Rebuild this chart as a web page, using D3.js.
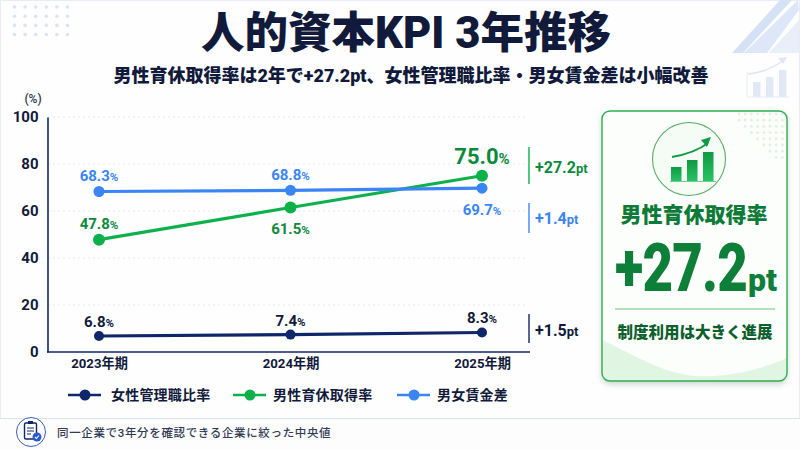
<!DOCTYPE html>
<html lang="ja">
<head>
<meta charset="utf-8">
<script src="https://cdn.jsdelivr.net/npm/d3@7"></script>
<style>
html,body{margin:0;padding:0;background:#fff}
svg{display:block}
text{font-family:Roboto,"Noto Sans CJK JP",sans-serif;font-weight:700}
</style>
</head>
<body>
<svg id="chart" width="800" height="450"></svg>
<script>
// Three-year median KPI values (%)
const fiscalYears = ["2023年期", "2024年期", "2025年期"];
const femaleManagers = [6.8, 7.4, 8.3];
const paternityLeave = [47.8, 61.5, 75.0];
const payRatio = [68.3, 68.8, 69.7];
const yTicks = [0, 20, 40, 60, 80, 100];
const seriesNames = ["女性管理職比率", "男性育休取得率", "男女賃金差"];
const changeLabels = ["+1.5", "+27.2", "+1.4"];

const NAVY = "#10266b", GREEN = "#0db14b", GREEN_TEXT = "#0d8a3c", BLUE = "#3b84f4", INK = "#111a3a";

const svg = d3.select("#chart");
const defs = svg.append("defs");

// Slide background and frame
svg.append("rect").attr("width", 800).attr("height", 450).attr("fill", "#fefefe");
svg.append("rect").attr("x", 0.5).attr("y", 0.5).attr("width", 799).attr("height", 449)
  .attr("fill", "none").attr("stroke", "#e9edf3");

// Corner dots
const dotCols = d3.range(6), dotRows = d3.range(4);
svg.append("g").selectAll("circle")
  .data(d3.cross(dotCols, dotRows))
  .join("circle")
  .attr("cx", d => 14.5 + d[0] * 10.6)
  .attr("cy", d => 7 + d[1] * 9.2)
  .attr("r", 1.8)
  .attr("fill", "#dbe4f7");

// Corner diagonal stripes
const stripes = svg.append("g");
[
  ["M732,53 L780,0 L792,0 L743,53 Z", "#d5e1f5"],
  ["M744,53 L798,0 L799,10 L767,53 Z", "#dde7f7"],
  ["M769,53 L799,20 L799,53 Z", "#e9eff9"]
].forEach(([p, c]) => stripes.append("path").attr("d", p).attr("fill", c));

// Faint corner chart icon
const faint = svg.append("g");
[[753, 82], [766, 77], [779, 70]].forEach(([x, y]) =>
  faint.append("rect").attr("x", x).attr("y", y).attr("width", 7.5).attr("height", 97 - y).attr("fill", "#e1e9f7"));
faint.append("path").attr("d", "M747,97 H790 M747,97 V72").attr("stroke", "#e6ecf7").attr("fill", "none");
faint.append("path").attr("d", "M748,74 Q768,72 784,60").attr("stroke", "#dfe7f5").attr("stroke-width", 1.5).attr("fill", "none");
faint.append("path").attr("d", "M787,57 L778,58 L783,64 Z").attr("fill", "#dfe7f5");

// Headline
svg.append("text").attr("x", 406).attr("y", 48).attr("text-anchor", "middle")
  .attr("font-size", 43.5).attr("fill", INK).style("font-weight", 900).text("人的資本KPI 3年推移");
svg.append("text").attr("x", 411).attr("y", 81.5).attr("text-anchor", "middle")
  .attr("font-size", 18).attr("fill", INK).style("font-weight", 900)
  .text("男性育休取得率は2年で+27.2pt、女性管理職比率・男女賃金差は小幅改善");

// Scales
const x = d3.scalePoint().domain(fiscalYears).range([99, 482]);
const y = d3.scaleLinear().domain([0, 100]).range([352, 117]);

// Horizontal guides
svg.append("g").selectAll("line").data(yTicks.filter(d => d > 0)).join("line")
  .attr("x1", 48).attr("x2", 528)
  .attr("y1", d => y(d)).attr("y2", d => y(d))
  .attr("stroke", "#e2e8f4").attr("stroke-dasharray", "2 3");

// Axes
const yAxis = svg.append("g").attr("transform", "translate(47.5,0)")
  .call(d3.axisLeft(y).tickValues(yTicks).tickSize(0).tickPadding(9));
yAxis.select(".domain").attr("stroke", NAVY).attr("stroke-width", 1.6);
yAxis.selectAll("text").attr("font-size", 15).attr("fill", INK).style("font-family", "Roboto");

const xAxis = svg.append("g").attr("transform", "translate(0,352)")
  .call(d3.axisBottom(x).tickSize(0).tickPadding(7));
xAxis.select(".domain").attr("d", "M47,0 H530").attr("stroke", NAVY).attr("stroke-width", 1.6);
xAxis.selectAll("text").attr("font-size", 13.2).attr("fill", INK);

svg.append("text").attr("x", 33).attr("y", 103).attr("text-anchor", "middle")
  .attr("font-size", 12).attr("fill", "#2a3350").style("font-weight", 500).text("(%)");

// Series, with label placement per point: baseline offset from the marker
const series = [
  { name: seriesNames[0], values: femaleManagers, color: NAVY, text: INK, offs: [-9, -9, -9], width: 3.2, r: 5, change: changeLabels[0], bracket: [314, 343], changeY: 336 },
  { name: seriesNames[1], values: paternityLeave, color: GREEN, text: GREEN_TEXT, offs: [-11, 27, -12], width: 3.2, r: 6, change: changeLabels[1], bracket: [147, 184], changeY: 173 },
  { name: seriesNames[2], values: payRatio, color: BLUE, text: BLUE, offs: [-10, -10, 27], width: 3.2, r: 5.5, change: changeLabels[2], bracket: [203, 233], changeY: 224 }
];
const line = d3.line().x((d, i) => x(fiscalYears[i])).y(d => y(d));

series.forEach(s => {
  svg.append("path").datum(s.values).attr("d", line)
    .attr("fill", "none").attr("stroke", s.color).attr("stroke-width", s.width);
  svg.append("g").selectAll("circle").data(s.values).join("circle")
    .attr("cx", (d, i) => x(fiscalYears[i])).attr("cy", d => y(d))
    .attr("r", s.r).attr("fill", s.color);

  const labels = svg.append("g").selectAll("text").data(s.values).join("text")
    .attr("x", (d, i) => x(fiscalYears[i]))
    .attr("y", (d, i) => y(d) + s.offs[i])
    .attr("text-anchor", "middle").attr("fill", s.text);
  labels.each(function (d) {
    const big = d === d3.max(paternityLeave);
    const t = d3.select(this);
    t.append("tspan").attr("font-size", big ? 22 : 15).text(d.toFixed(1));
    t.append("tspan").attr("font-size", big ? 15 : 11.5).text("%");
  });

  // Two-year change bracket
  svg.append("line").attr("x1", 529).attr("x2", 529)
    .attr("y1", s.bracket[0]).attr("y2", s.bracket[1])
    .attr("stroke", s.color).attr("stroke-width", 1.4);
  const c = svg.append("text").attr("x", 535).attr("y", s.changeY).attr("fill", s.text);
  c.append("tspan").attr("font-size", 16).text(s.change);
  c.append("tspan").attr("font-size", 13).text("pt");
});

// Legend
const legendX = [68, 233, 397];
series.forEach((s, i) => {
  const g = svg.append("g").attr("transform", `translate(${legendX[i]},395)`);
  g.append("line").attr("x2", 33).attr("stroke", s.color).attr("stroke-width", 2.6);
  g.append("circle").attr("cx", 17).attr("r", 5.5).attr("fill", s.color);
  g.append("text").attr("x", i === 0 ? 43 : 40).attr("y", 5).attr("font-size", 14)
    .attr("letter-spacing", 0.2).attr("fill", INK).text(s.name);
});

// Footer note
svg.append("rect").attr("x", 0).attr("y", 418).attr("width", 800).attr("height", 32).attr("fill", "#fdfdfe");
svg.append("line").attr("x1", 0).attr("x2", 800).attr("y1", 418.5).attr("y2", 418.5).attr("stroke", "#d8e4f6");
const note = svg.append("g").attr("transform", "translate(31,432)");
note.append("circle").attr("r", 14.5).attr("fill", "#fff").attr("stroke", "#3a5bc4").attr("stroke-width", 1);
note.append("rect").attr("x", -6.5).attr("y", -9).attr("width", 12).attr("height", 16).attr("rx", 1.5)
  .attr("fill", "#fff").attr("stroke", NAVY).attr("stroke-width", 1.4);
note.append("rect").attr("x", -3).attr("y", -11).attr("width", 5).attr("height", 3).attr("fill", NAVY);
note.append("path").attr("d", "M-4,-4 H3 M-4,-1 H3 M-4,2 H0").attr("stroke", NAVY).attr("stroke-width", 1);
note.append("circle").attr("cx", 6).attr("cy", 5).attr("r", 4.5).attr("fill", "#2a5bd0");
note.append("path").attr("d", "M4,5 L5.5,6.5 L8,3.5").attr("fill", "none").attr("stroke", "#fff").attr("stroke-width", 1.1);
svg.append("text").attr("x", 57).attr("y", 436.5).attr("font-size", 11.5)
  .attr("letter-spacing", 0.65).attr("fill", "#333c55").style("font-weight", 500)
  .text("同一企業で3年分を確認できる企業に絞った中央値");

// Highlight card
const shadow = defs.append("filter").attr("id", "cardShadow").attr("x", "-10%").attr("y", "-10%").attr("width", "120%").attr("height", "120%");
shadow.append("feDropShadow").attr("dx", 0).attr("dy", 3).attr("stdDeviation", 3).attr("flood-color", "#8a9a8f").attr("flood-opacity", 0.45);
const cardClip = defs.append("clipPath").attr("id", "cardClip");
cardClip.append("rect").attr("x", 602).attr("y", 111).attr("width", 185).attr("height", 270).attr("rx", 8);
const barGrad = defs.append("linearGradient").attr("id", "barGrad").attr("x1", 0).attr("x2", 0).attr("y1", 0).attr("y2", 1);
barGrad.append("stop").attr("offset", 0).attr("stop-color", "#0f9a43");
barGrad.append("stop").attr("offset", 1).attr("stop-color", "#27c263");

svg.append("rect").attr("x", 602).attr("y", 111).attr("width", 185).attr("height", 270).attr("rx", 8)
  .attr("fill", "#fbfefb").attr("filter", "url(#cardShadow)");
const cardInner = svg.append("g").attr("clip-path", "url(#cardClip)");
cardInner.append("path")
  .attr("d", "M602,340 C640,358 660,372 695,376 C730,378 765,368 787,358 V381 H602 Z")
  .attr("fill", "#e0f5e2");
cardInner.append("g").selectAll("circle")
  .data(d3.cross(d3.range(8), d3.range(8)).filter(d => d[0] + (7 - d[1]) > 5))
  .join("circle")
  .attr("cx", d => 739 + d[0] * 6.2)
  .attr("cy", d => 114 + d[1] * 6.2)
  .attr("r", 1.4)
  .attr("fill", "#dff2e2");
svg.append("rect").attr("x", 602).attr("y", 111).attr("width", 185).attr("height", 270).attr("rx", 8)
  .attr("fill", "none").attr("stroke", "#2fae50").attr("stroke-width", 1.4);

// Card icon
svg.append("circle").attr("cx", 689).attr("cy", 159).attr("r", 36.5)
  .attr("fill", "#f5fbf5").attr("stroke", "#58ad64").attr("stroke-width", 1.1);
[[671, 167], [687, 160], [703, 152]].forEach(([bx, by]) =>
  svg.append("rect").attr("x", bx).attr("y", by).attr("width", 10.5).attr("height", 181 - by).attr("fill", "url(#barGrad)"));
svg.append("line").attr("x1", 670).attr("x2", 716).attr("y1", 181.5).attr("y2", 181.5).attr("stroke", "#7cc98e");
svg.append("path").attr("d", "M672,157 Q695,153 708,143").attr("fill", "none").attr("stroke", "#0f9a43").attr("stroke-width", 1.8);
svg.append("path").attr("d", "M711,137 L701,140 L707,147 Z").attr("fill", "#0f9a43");

// Card text: tall, slightly condensed change figure with a smaller unit beside it
svg.append("text").attr("x", 694).attr("y", 222).attr("text-anchor", "middle")
  .attr("font-size", 21).attr("fill", "#0e7a37").style("font-weight", 900).text("男性育休取得率");
svg.append("text").attr("transform", "translate(747,291) scale(0.8,1)").attr("text-anchor", "end")
  .attr("font-size", 66).attr("letter-spacing", -1).attr("fill", "#0e7f39").style("font-weight", 900)
  .text(changeLabels[1]);
svg.append("text").attr("x", 748).attr("y", 291).attr("font-size", 32)
  .attr("fill", "#0e7f39").style("font-weight", 900).text("pt");
svg.append("line").attr("x1", 615).attr("x2", 775).attr("y1", 309).attr("y2", 309)
  .attr("stroke", "#66c67c").attr("stroke-width", 1.2);
svg.append("text").attr("x", 695).attr("y", 338).attr("text-anchor", "middle")
  .attr("font-size", 15.5).attr("fill", "#0d5f2d").style("font-weight", 900).text("制度利用は大きく進展");
</script>
</body>
</html>
